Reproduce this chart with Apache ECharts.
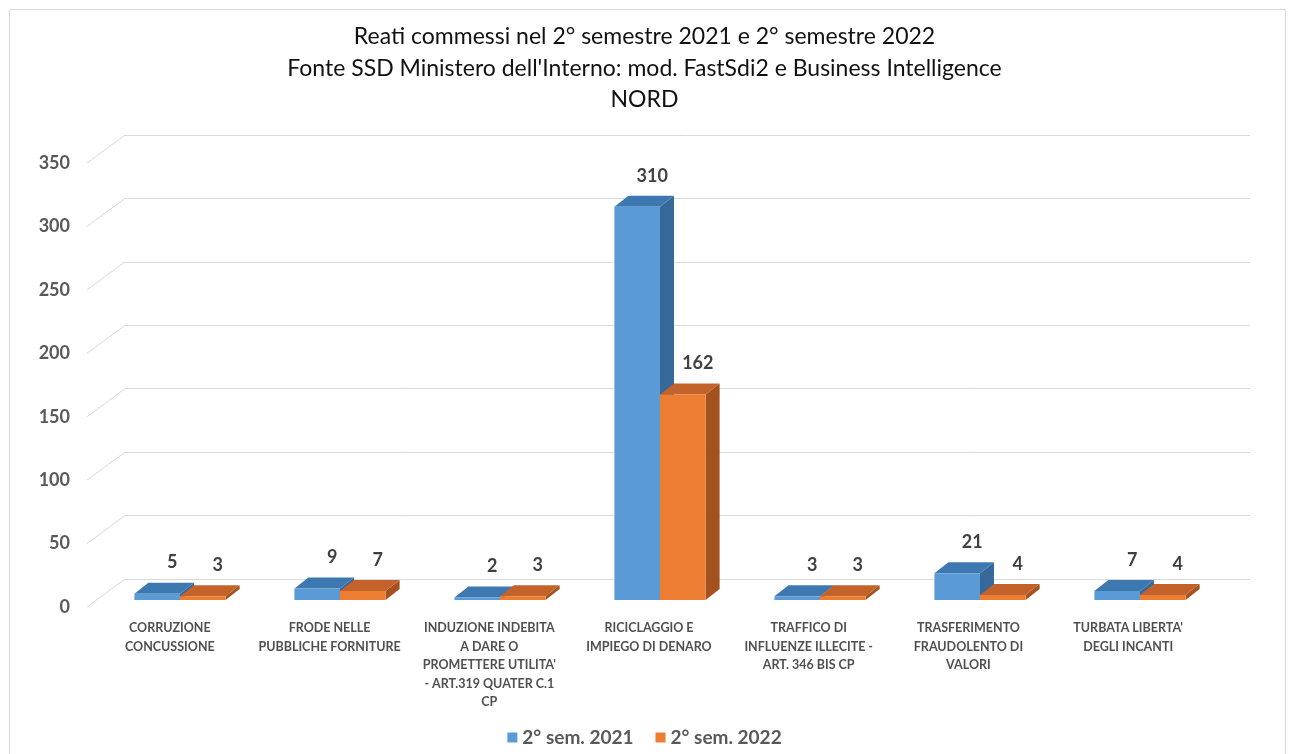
<!DOCTYPE html>
<html><head><meta charset="utf-8">
<script src="https://cdn.jsdelivr.net/npm/echarts@6/dist/echarts.min.js"></script>
<style>html,body{margin:0;padding:0;background:#fff}#c{width:1289px;height:754px}</style>
</head><body><div id="c"></div>
<script>
const titleLines = [
  "Reati commessi nel 2° semestre 2021 e 2° semestre 2022",
  "Fonte SSD Ministero dell'Interno: mod. FastSdi2 e Business Intelligence",
  "NORD"
];
const categories = [
  "CORRUZIONE\nCONCUSSIONE",
  "FRODE NELLE\nPUBBLICHE FORNITURE",
  "INDUZIONE INDEBITA\nA DARE O\nPROMETTERE UTILITA'\n- ART.319 QUATER C.1\nCP",
  "RICICLAGGIO E\nIMPIEGO DI DENARO",
  "TRAFFICO DI\nINFLUENZE ILLECITE -\nART. 346 BIS CP",
  "TRASFERIMENTO\nFRAUDOLENTO DI\nVALORI",
  "TURBATA LIBERTA'\nDEGLI INCANTI"
];
const seriesNames = ["2° sem. 2021", "2° sem. 2022"];
const values2021 = [5, 9, 2, 310, 3, 21, 7];
const values2022 = [3, 7, 3, 162, 3, 4, 4];
const yTicks = [0, 50, 100, 150, 200, 250, 300, 350];

// ---- styling constants ----
const DEPTH_X = 14, DEPTH_Y = 11;     // bar depth
const WALL_DX = 38, WALL_DY = 28;     // wall depth (front label plane -> back wall)
const BAR_RATIO = 0.285;
const palette = [
  {front: '#5B9BD5', top: '#3E78B1', side: '#36699A'},
  {front: '#ED7D31', top: '#C3622A', side: '#A3521F'}
];

function barRender(si) {
  return function (params, api) {
    const c = api.value(0), v = api.value(1);
    const top = api.coord([c, v]), base = api.coord([c, 0]);
    const band = api.size([1, 0])[0];
    const bw = band * BAR_RATIO;
    const x0 = si === 0 ? top[0] - bw : top[0];
    const x1 = x0 + bw, yt = top[1], yb = base[1];
    const col = palette[si];
    return {type: 'group', children: [
      {type: 'polygon', shape: {points: [[x1, yt], [x1 + DEPTH_X, yt - DEPTH_Y], [x1 + DEPTH_X, yb - DEPTH_Y], [x1, yb]]}, style: {fill: col.side}},
      {type: 'polygon', shape: {points: [[x0, yt], [x1, yt], [x1 + DEPTH_X, yt - DEPTH_Y], [x0 + DEPTH_X, yt - DEPTH_Y]]}, style: {fill: col.top}},
      {type: 'rect', shape: {x: x0, y: yt, width: bw, height: yb - yt}, style: {fill: col.front}},
      {type: 'text', z2: 10, x: x0 + bw / 2 + 15, y: yt - DEPTH_Y - 20,
        style: {text: String(v), fill: '#404040', font: 'bold 18px Lato', align: 'center', verticalAlign: 'middle'}}
    ]};
  };
}

const chart = echarts.init(document.getElementById('c'), null, {renderer: 'canvas'});
chart.setOption({
  animation: false,
  backgroundColor: '#ffffff',
  title: {
    text: titleLines.join('\n'), left: 'center', top: 16,
    textStyle: {fontFamily: 'Lato', fontSize: 23, fontWeight: 'normal', color: '#111111', lineHeight: 31.5}
  },
  legend: {
    data: seriesNames, bottom: 2, left: 'center', icon: 'rect', itemWidth: 10, itemHeight: 10, itemGap: 22,
    textStyle: {fontFamily: 'Lato', fontSize: 19, fontWeight: 'bold', color: '#595959'}
  },
  graphic: [{type: 'rect', left: 7, top: 7, silent: true, shape: {width: 1276, height: 800},
    style: {fill: 'none', stroke: '#d9d9d9', lineWidth: 1}}],
  grid: [
    {left: 90, right: 81, top: 163, bottom: 147},   // front label plane
    {left: 100, right: 69, top: 156, bottom: 154},  // bars plane
    {left: 125, right: 39, top: 135, bottom: 175}   // back wall
  ],
  xAxis: [
    {type: 'category', gridIndex: 0, data: categories, axisLine: {show: false}, axisTick: {show: false},
      axisLabel: {interval: 0, margin: 12, color: '#505050', fontWeight: 'bold', fontFamily: 'Lato',
        fontSize: 12.5, lineHeight: 18.5, align: 'center'}},
    {type: 'category', gridIndex: 1, data: categories, show: false},
    {type: 'value', gridIndex: 2, min: 0, max: 1, show: false}
  ],
  yAxis: [
    {type: 'value', gridIndex: 0, min: 0, max: 350, interval: 50, axisLine: {show: false}, axisTick: {show: false},
      splitLine: {show: false},
      axisLabel: {margin: 20, color: '#595959', fontFamily: 'Lato', fontWeight: 'bold', fontSize: 18}},
    {type: 'value', gridIndex: 1, min: 0, max: 350, interval: 50, show: false, splitLine: {show: false}},
    {type: 'value', gridIndex: 2, min: 0, max: 350, interval: 50, axisLine: {show: false}, axisTick: {show: false},
      axisLabel: {show: false}, splitLine: {show: true, lineStyle: {color: '#d9d9d9', width: 1}}}
  ],
  series: [
    {type: 'custom', name: 'wall', xAxisIndex: 2, yAxisIndex: 2, silent: true, z: 1,
      data: yTicks.map(v => [0, v]),
      renderItem: function (params, api) {
        const p = api.coord([0, api.value(1)]);
        return {type: 'line', shape: {x1: p[0] - WALL_DX, y1: p[1] + WALL_DY, x2: p[0], y2: p[1]},
          style: {stroke: '#d9d9d9', lineWidth: 1}};
      }},
    {type: 'custom', name: seriesNames[0], xAxisIndex: 1, yAxisIndex: 1, z: 3,
      itemStyle: {color: palette[0].front},
      data: values2021.map((v, i) => [i, v]), renderItem: barRender(0)},
    {type: 'custom', name: seriesNames[1], xAxisIndex: 1, yAxisIndex: 1, z: 3,
      itemStyle: {color: palette[1].front},
      data: values2022.map((v, i) => [i, v]), renderItem: barRender(1)}
  ]
});
</script>
</body></html>
